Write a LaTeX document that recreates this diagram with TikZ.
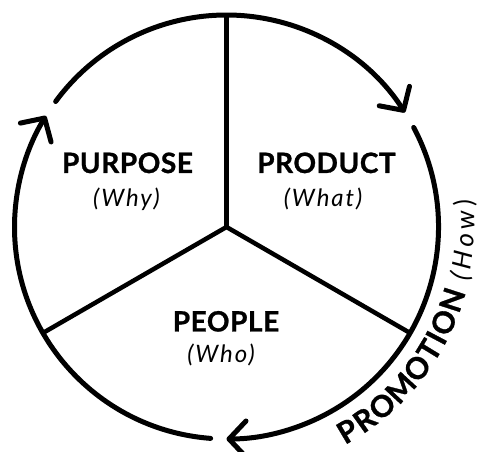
\documentclass[tikz,border=0pt]{standalone}
\usepackage{fontspec}
\setmainfont{Lato}[BoldFeatures={FakeBold=1}]
\newfontfamily\capf{Lato}[LetterSpace=2, BoldFeatures={FakeBold=1}]
\newfontfamily\itf{Lato}[LetterSpace=8]
\newcommand\promofont{\fontsize{28pt}{30pt}\selectfont\capf\bfseries}
\newcommand\howfont{\fontsize{24pt}{26pt}\selectfont\itf\itshape}
\newcommand\arcbold{\fontsize{30pt}{32pt}\selectfont\bfseries}
\newcommand\arcital{\fontsize{26pt}{28pt}\selectfont\itshape}
\usetikzlibrary{arrows.meta,calc}
\begin{document}
\begin{tikzpicture}[x=1pt,y=1pt,
  ring/.style={line width=5pt, line cap=round},
  spoke/.style={line width=4.5pt},
  tipb/.style={-{Straight Barb[length=17pt,width=36pt,round]}},
  caplabel/.style={anchor=base, inner sep=0pt, font=\promofont},
  itlabel/.style={anchor=base, inner sep=0pt, font=\howfont},
  arcbchar/.style={anchor=base, inner sep=0pt, font=\arcbold},
  arcichar/.style={anchor=base, inner sep=0pt, font=\arcital}]
\useasboundingbox (0,0) rectangle (477,452);
\coordinate (c) at (226.5,225);
% spokes
\coordinate (top) at ($(c)+(90:212)$);
\coordinate (left) at ($(c)+(210:212)$);
\coordinate (right) at ($(c)+(330:212)$);
\draw[spoke] (c) -- (top);
\draw[spoke] (c) -- (left);
\draw[spoke] (c) -- (right);
% ring arcs with arrows
\draw[ring,tipb] ($(c)+(143.7:212)$) arc[start angle=143.7, end angle=32.7, radius=212];
\draw[ring,tipb] ($(c)+(28:212)$) arc[start angle=28, end angle=-90, radius=212];
\draw[ring,tipb] ($(c)+(-94.3:212)$) arc[start angle=-94.3, end angle=-211.6, radius=212];
% labels
\node[caplabel] (purpose) at (127.5,279) {PURPOSE};
\node[itlabel] (why) at (126.5,245.5) {(Why)};
\node[caplabel] (product) at (326.5,279) {PRODUCT};
\node[itlabel] (what) at (323,245.5) {(What)};
\node[caplabel] (people) at (226,120.5) {PEOPLE};
\node[itlabel] (who) at (221,89) {(Who)};
% curved label, set letter by letter along an outer arc (baseline radius 248)
\foreach \ch/\a [count=\i] in {P/-59.3, R/-54.4, O/-49.0, M/-42.75, O/-36.5, T/-31.3, I/-27.85, O/-23.7, N/-17.9} {
  \node[arcbchar, rotate=\a+90] (pr\i) at ($(c)+(\a:248)$) {\ch};
}
\node[arcichar, rotate=-11.84+90] (hw1) at ($(c)+(-11.84:248)$) {(};
\node[arcichar, rotate=-7.85+90] (hw2) at ($(c)+(-7.85:248)$) {H};
\node[arcichar, rotate=-3.17+90] (hw3) at ($(c)+(-3.17:248)$) {o};
\node[arcichar, rotate=1.63+90] (hw4) at ($(c)+(1.63:248)$) {w};
\node[arcichar, rotate=5.74+90] (hw5) at ($(c)+(5.74:248)$) {)};
\end{tikzpicture}
\end{document}
